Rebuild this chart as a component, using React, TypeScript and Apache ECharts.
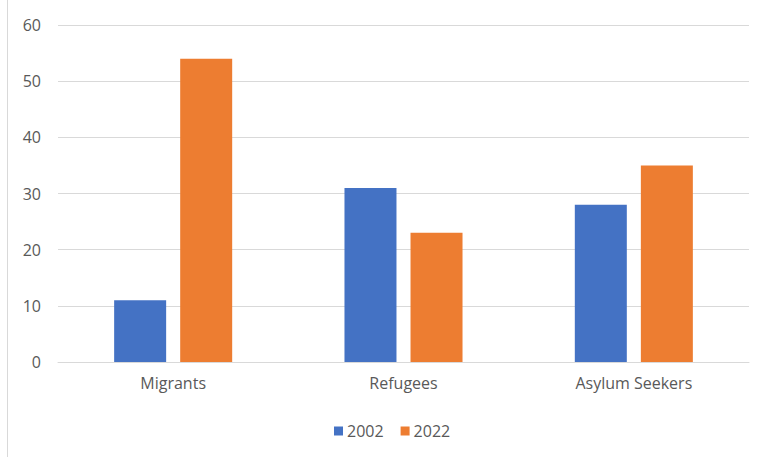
import React, { useEffect, useRef } from "react";
import * as echarts from "echarts";

const categories = ["Migrants", "Refugees", "Asylum Seekers"];
const values2002 = [11, 31, 28];
const values2022 = [54, 23, 35];
const seriesNames = ["2002", "2022"];

export default function App() {
  const ref = useRef<HTMLDivElement>(null);
  useEffect(() => {
    if (!ref.current) return;
    const chart = echarts.init(ref.current, undefined, { renderer: "svg" });
    const font = "'Open Sans', sans-serif";
    chart.setOption({
      animation: false,
      backgroundColor: "#ffffff",
      textStyle: { fontFamily: font },
      grid: { left: 58, right: 14, top: 25, bottom: 95, containLabel: false },
      legend: {
        data: seriesNames,
        top: 418,
        left: 329,
        itemWidth: 9,
        itemHeight: 9,
        itemGap: 17,
        icon: "rect",
        textStyle: { color: "#595959", fontSize: 16, fontFamily: font, padding: [0, 0, 0, -1] },
      },
      graphic: [
        {
          type: "line",
          shape: { x1: 7.5, y1: 0, x2: 7.5, y2: 457 },
          style: { stroke: "#d9d9d9", lineWidth: 1 },
        },
      ],
      xAxis: {
        type: "category",
        data: categories,
        axisLine: { show: true, lineStyle: { color: "#d9d9d9" } },
        axisTick: { show: false },
        axisLabel: { color: "#595959", fontSize: 16, margin: 13, fontFamily: font },
      },
      yAxis: {
        type: "value",
        min: 0,
        max: 60,
        interval: 10,
        axisLine: { show: false },
        axisTick: { show: false },
        axisLabel: { color: "#595959", fontSize: 16, margin: 17, fontFamily: font },
        splitLine: { lineStyle: { color: "#d9d9d9" } },
      },
      series: [
        {
          name: seriesNames[0],
          type: "bar",
          data: values2002,
          barWidth: 52,
          barGap: "27%",
          itemStyle: { color: "#4472c4" },
        },
        {
          name: seriesNames[1],
          type: "bar",
          data: values2022,
          barWidth: 52,
          barGap: "27%",
          itemStyle: { color: "#ed7d31" },
        },
      ],
    });
    return () => chart.dispose();
  }, []);
  return (
    <div
      ref={ref}
      style={{ position: "absolute", left: 0, top: 0, width: 763, height: 457 }}
    />
  );
}
